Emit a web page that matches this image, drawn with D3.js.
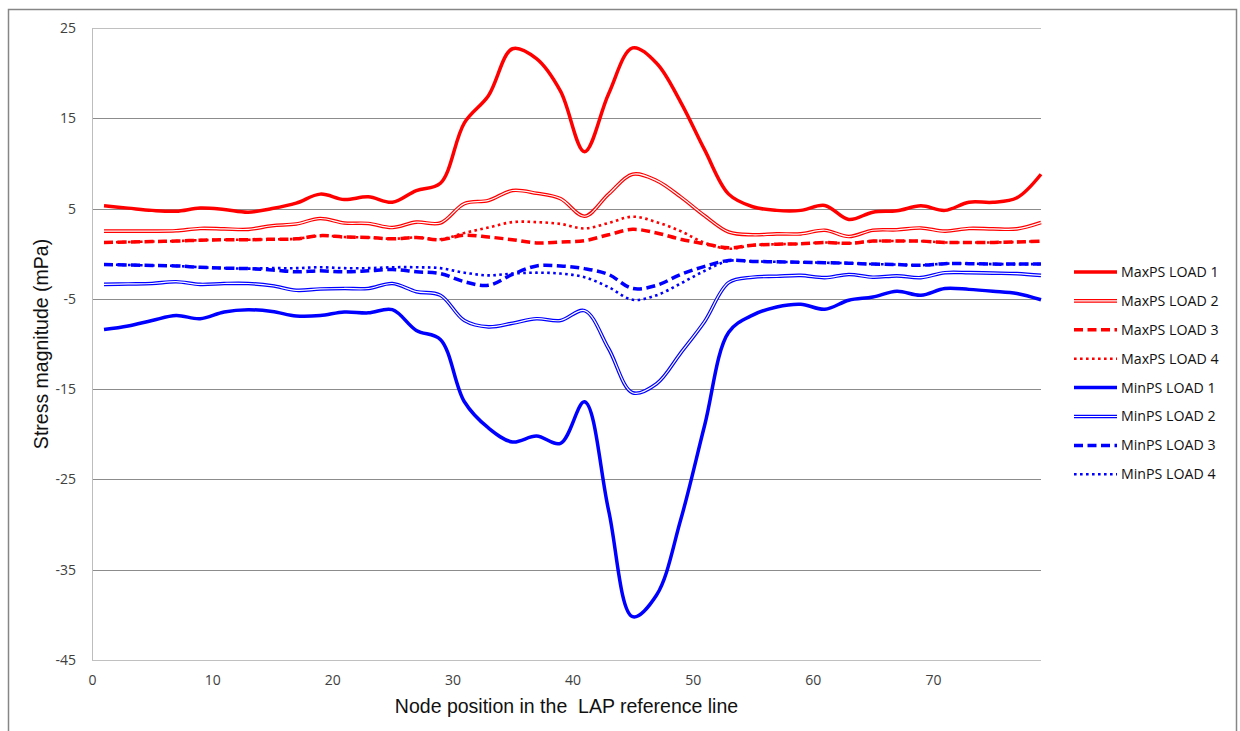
<!DOCTYPE html>
<html>
<head>
<meta charset="utf-8">
<script src="https://cdn.jsdelivr.net/npm/d3@7"></script>
<style>
  body { margin: 0; background: #fff; }
  svg { display: block; }
</style>
</head>
<body>
<div id="chart"></div>
<script>
// node positions along the LAP reference line
const nodes = [1, 3, 5, 7, 9, 11, 13, 15, 17, 19, 21, 23, 25, 27, 29, 31, 33, 35, 37, 39,
  41, 43, 45, 47, 49, 51, 53, 55, 57, 59, 61, 63, 65, 67, 69, 71, 73, 75, 77, 79];

const maxLoad1 = [5.3, 5.05, 4.8, 4.7, 5.05, 4.9, 4.6, 5.0, 5.6, 6.6, 6.0, 6.3, 5.7, 7.0, 7.8, 14.5, 17.5, 22.7, 21.6, 18.0,
  11.3, 17.7, 22.8, 21.1, 16.8, 11.5, 6.6, 5.2, 4.8, 4.8, 5.35, 3.8, 4.6, 4.75, 5.3, 4.8, 5.7, 5.7, 6.2, 8.8];
const maxLoad2 = [2.5, 2.5, 2.5, 2.55, 2.8, 2.75, 2.7, 3.1, 3.3, 3.9, 3.4, 3.35, 2.9, 3.5, 3.4, 5.55, 5.9, 7.0, 6.7, 6.1,
  4.15, 6.6, 8.8, 8.1, 6.3, 4.2, 2.4, 2.1, 2.2, 2.2, 2.6, 1.9, 2.6, 2.65, 2.85, 2.5, 2.8, 2.75, 2.75, 3.45];
const maxLoad3 = [1.25, 1.3, 1.35, 1.4, 1.5, 1.55, 1.55, 1.6, 1.65, 2.0, 1.85, 1.8, 1.65, 1.8, 1.55, 2.05, 1.85, 1.55, 1.2, 1.3,
  1.45, 2.1, 2.7, 2.3, 1.6, 1.1, 0.65, 0.95, 1.05, 1.1, 1.25, 1.15, 1.4, 1.4, 1.4, 1.25, 1.25, 1.25, 1.3, 1.4];
const maxLoad4 = [1.25, 1.3, 1.35, 1.4, 1.5, 1.55, 1.55, 1.6, 1.65, 2.0, 1.85, 1.8, 1.65, 1.8, 1.6, 2.3, 2.9, 3.5, 3.5, 3.3,
  2.8, 3.4, 4.1, 3.5, 2.5, 1.2, 0.55, 0.95, 1.05, 1.1, 1.25, 1.15, 1.4, 1.4, 1.4, 1.25, 1.25, 1.25, 1.3, 1.4];
const minLoad1 = [-8.4, -8.0, -7.4, -6.85, -7.2, -6.45, -6.2, -6.4, -6.9, -6.85, -6.45, -6.55, -6.2, -8.5, -9.5, -16.4, -19.3, -20.85, -20.2, -21.0,
  -16.4, -28.4, -40.2, -37.8, -29.5, -19.0, -8.7, -6.8, -5.9, -5.6, -6.15, -5.15, -4.8, -4.15, -4.6, -3.85, -3.95, -4.15, -4.4, -5.1];
const minLoad2 = [-3.4, -3.35, -3.3, -3.1, -3.4, -3.3, -3.3, -3.55, -4.05, -3.9, -3.85, -3.85, -3.3, -4.2, -4.6, -7.4, -8.1, -7.7, -7.2, -7.4,
  -6.3, -10.5, -15.4, -14.4, -11.0, -7.5, -3.2, -2.6, -2.5, -2.4, -2.65, -2.3, -2.6, -2.45, -2.65, -2.1, -2.1, -2.15, -2.2, -2.4];
const minLoad3 = [-1.2, -1.25, -1.3, -1.35, -1.5, -1.6, -1.65, -1.8, -2.0, -1.9, -2.0, -1.9, -1.75, -2.0, -2.2, -3.1, -3.5, -2.3, -1.35, -1.35,
  -1.65, -2.3, -3.85, -3.5, -2.3, -1.4, -0.75, -0.85, -0.9, -0.95, -1.0, -1.05, -1.15, -1.2, -1.28, -1.1, -1.1, -1.15, -1.15, -1.15];
const minLoad4 = [-1.2, -1.25, -1.3, -1.35, -1.5, -1.6, -1.65, -1.6, -1.6, -1.5, -1.6, -1.6, -1.5, -1.5, -1.6, -2.1, -2.4, -2.2, -2.1, -2.2,
  -2.6, -3.7, -5.1, -4.6, -3.3, -1.9, -0.8, -0.85, -0.9, -0.95, -1.0, -1.05, -1.15, -1.2, -1.28, -1.1, -1.1, -1.15, -1.15, -1.15];

const seriesNames = ["MaxPS LOAD 1", "MaxPS LOAD 2", "MaxPS LOAD 3", "MaxPS LOAD 4",
  "MinPS LOAD 1", "MinPS LOAD 2", "MinPS LOAD 3", "MinPS LOAD 4"];
const seriesValues = [maxLoad1, maxLoad2, maxLoad3, maxLoad4, minLoad1, minLoad2, minLoad3, minLoad4];
const seriesColors = ["#ff0000", "#ff0000", "#ff0000", "#ff0000", "#0000ff", "#0000ff", "#0000ff", "#0000ff"];
const seriesStyles = ["solid", "double", "dash", "dot", "solid", "double", "dash", "dot"];

const yTicks = [25, 15, 5, -5, -15, -25, -35, -45];
const xTicks = [0, 10, 20, 30, 40, 50, 60, 70];

const width = 1240, height = 731;
const plot = { left: 92, right: 1041, top: 28, bottom: 660 };
const labelFont = "'Open Sans', Lato, sans-serif";
const titleFont = "'Liberation Sans', Arial, sans-serif";

const svg = d3.select("#chart").append("svg")
    .attr("width", width)
    .attr("height", height);

// outer chart border
svg.append("rect")
    .attr("x", 8.5).attr("y", 9.5)
    .attr("width", 1228).attr("height", 730)
    .attr("fill", "#fff")
    .attr("stroke", "#868686")
    .attr("stroke-width", 1.5);

const x = d3.scaleLinear().domain([0, 79]).range([plot.left, plot.right]);
const y = d3.scaleLinear().domain([-45, 25]).range([plot.bottom, plot.top]);

// gridlines
svg.append("g")
    .selectAll("line")
    .data(yTicks)
    .enter()
    .append("line")
    .attr("x1", plot.left).attr("x2", plot.right)
    .attr("y1", d => Math.round(y(d)) + 0.5)
    .attr("y2", d => Math.round(y(d)) + 0.5)
    .attr("stroke", d => d === 25 || d === -45 ? "#c0c0c0" : "#8c8c8c")
    .attr("stroke-width", 1);

// y axis line
svg.append("line")
    .attr("x1", plot.left + 0.5).attr("x2", plot.left + 0.5)
    .attr("y1", plot.top).attr("y2", plot.bottom)
    .attr("stroke", "#bdbdbd");

const yAxis = d3.axisLeft(y).tickValues(yTicks).tickFormat(d => String(d)).tickSize(0).tickPadding(16);
const gy = svg.append("g")
    .attr("transform", "translate(" + plot.left + ",0)")
    .call(yAxis);
gy.select(".domain").remove();
gy.selectAll("text")
    .attr("font-family", labelFont)
    .attr("font-size", 14)
    .attr("fill", "#404040");

const xAxis = d3.axisBottom(x).tickValues(xTicks).tickFormat(d => String(d)).tickSize(0).tickPadding(15);
const gx = svg.append("g")
    .attr("transform", "translate(0," + plot.bottom + ")")
    .call(xAxis);
gx.select(".domain").remove();
gx.selectAll("text")
    .attr("font-family", labelFont)
    .attr("font-size", 14)
    .attr("fill", "#404040");

// axis titles
svg.append("text")
    .attr("x", (plot.left + plot.right) / 2)
    .attr("y", 713)
    .attr("text-anchor", "middle")
    .attr("font-family", titleFont)
    .attr("font-size", 19.5)
    .attr("fill", "#111")
    .style("white-space", "pre")
    .text("Node position in the  LAP reference line");

svg.append("text")
    .attr("transform", "translate(48," + ((plot.top + plot.bottom) / 2) + ") rotate(-90)")
    .attr("text-anchor", "middle")
    .attr("font-family", titleFont)
    .attr("font-size", 19.5)
    .attr("fill", "#111")
    .text("Stress magnitude (mPa)");

const line = d3.line()
    .x(d => x(d[0]))
    .y(d => y(d[1]))
    .curve(d3.curveCatmullRom.alpha(0.5));

function strokeLine(sel, style, color) {
    if (style === "solid") {
        sel.attr("stroke", color).attr("stroke-width", 3.5);
    } else if (style === "double") {
        sel.attr("stroke", color).attr("stroke-width", 3.6);
    } else if (style === "dash") {
        sel.attr("stroke", color).attr("stroke-width", 3.5).attr("stroke-dasharray", "9,4.5");
    } else {
        sel.attr("stroke", color).attr("stroke-width", 2.6).attr("stroke-dasharray", "2.6,3.4");
    }
    return sel;
}

const lines = svg.append("g");
seriesValues.forEach(function(vals, i) {
    const pts = nodes.map((n, j) => [n, vals[j]]);
    const p = lines.append("path")
        .datum(pts)
        .attr("fill", "none")
        .attr("stroke-linejoin", "round")
        .attr("d", line);
    strokeLine(p, seriesStyles[i], seriesColors[i]);
    if (seriesStyles[i] === "double") {
        lines.append("path")
            .datum(pts)
            .attr("fill", "none")
            .attr("stroke", "#fff")
            .attr("stroke-width", 1.2)
            .attr("d", line);
    }
});

// legend
const legend = svg.append("g");
seriesNames.forEach(function(name, i) {
    const ly = 272 + i * 28.9;
    const l = legend.append("line")
        .attr("x1", 1074).attr("x2", 1117)
        .attr("y1", ly).attr("y2", ly)
        .attr("fill", "none");
    strokeLine(l, seriesStyles[i], seriesColors[i]);
    if (seriesStyles[i] === "double") {
        legend.append("line")
            .attr("x1", 1074).attr("x2", 1117)
            .attr("y1", ly).attr("y2", ly)
            .attr("stroke", "#fff").attr("stroke-width", 1.2);
    }
    legend.append("text")
        .attr("x", 1121)
        .attr("y", ly)
        .attr("dy", "0.35em")
        .attr("font-family", labelFont)
        .attr("font-size", 14.2)
        .attr("fill", "#111")
        .text(name);
});
</script>
</body>
</html>
